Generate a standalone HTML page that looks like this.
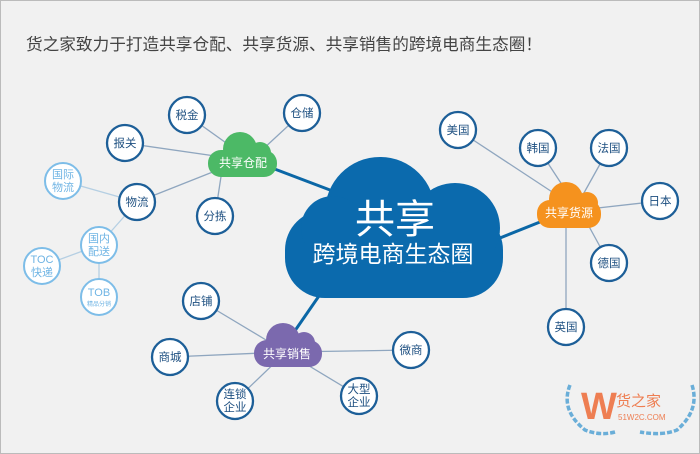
<!DOCTYPE html>
<html><head><meta charset="utf-8"><style>
html,body{margin:0;padding:0;background:#f1f1f1}
svg{display:block}
text{font-family:"Liberation Sans","Noto Sans CJK SC",sans-serif}
</style></head><body>
<svg width="700" height="454" viewBox="0 0 700 454" xmlns="http://www.w3.org/2000/svg">
<rect x="0.5" y="0.5" width="699" height="453" fill="#f1f1f1" stroke="#bbb"/>
<text x="26" y="50" font-size="16.5" fill="#444" textLength="516" lengthAdjust="spacingAndGlyphs">货之家致力于打造共享仓配、共享货源、共享销售的跨境电商生态圈！</text>
<g stroke="#8fa6bf" stroke-width="1.3">
<line x1="243" y1="155" x2="187" y2="115"/><line x1="262" y1="150" x2="302" y2="113"/>
<line x1="243" y1="160" x2="125" y2="143"/><line x1="243" y1="160" x2="137" y2="202"/>
<line x1="222" y1="170" x2="215" y2="216"/>
<line x1="572" y1="205" x2="458" y2="130"/><line x1="572" y1="200" x2="538" y2="148"/>
<line x1="580" y1="200" x2="609" y2="148"/><line x1="580" y1="210" x2="660" y2="201"/>
<line x1="580" y1="210" x2="609" y2="263"/><line x1="566" y1="215" x2="566" y2="327"/>
<line x1="286" y1="352" x2="201" y2="301"/><line x1="286" y1="352" x2="170" y2="357"/>
<line x1="286" y1="352" x2="235" y2="401"/><line x1="286" y1="352" x2="359" y2="396"/>
<line x1="286" y1="352" x2="411" y2="350"/>
</g>
<g stroke="#b5cfe3" stroke-width="1.3">
<line x1="137" y1="202" x2="63" y2="181"/><line x1="137" y1="202" x2="99" y2="245"/>
<line x1="99" y1="245" x2="42" y2="266"/><line x1="99" y1="245" x2="99" y2="297"/>
</g>
<g stroke="#0b67a6" stroke-width="3">
<line x1="272" y1="168" x2="330" y2="190"/><line x1="470" y1="250" x2="545" y2="220"/>
<line x1="330" y1="280" x2="292" y2="335"/>
</g>
<g fill="#0b6aad">
<rect x="285" y="210" width="218" height="88" rx="40"/>
<circle cx="380" cy="212" r="55"/><circle cx="333" cy="228" r="32"/><circle cx="455" cy="228" r="45"/>
</g>
<text x="395" y="233" font-size="40" fill="#fff" text-anchor="middle">共享</text>
<text x="393" y="262" font-size="23" fill="#fff" text-anchor="middle">跨境电商生态圈</text>
<g fill="#4cb966"><rect x="208" y="150" width="69" height="27" rx="13"/><circle cx="240" cy="149" r="17"/><circle cx="260" cy="153" r="11"/></g>
<text x="243" y="167" font-size="12" fill="#fff" text-anchor="middle">共享仓配</text>
<g fill="#f5921e"><rect x="537" y="200" width="64" height="28" rx="13"/><circle cx="566" cy="199" r="17"/><circle cx="587" cy="203" r="11"/></g>
<text x="569" y="217" font-size="12" fill="#fff" text-anchor="middle">共享货源</text>
<g fill="#7b69ae"><rect x="254" y="340" width="68" height="27" rx="13"/><circle cx="283" cy="340" r="17"/><circle cx="304" cy="343" r="11"/></g>
<text x="287" y="358" font-size="12" fill="#fff" text-anchor="middle">共享销售</text>
<g fill="#fff" stroke="#1d5f98" stroke-width="2.3">
<circle cx="187" cy="115" r="18"/><circle cx="302" cy="113" r="18"/><circle cx="125" cy="143" r="18"/>
<circle cx="137" cy="202" r="18"/><circle cx="215" cy="216" r="18"/>
<circle cx="201" cy="301" r="18"/><circle cx="170" cy="357" r="18"/><circle cx="235" cy="401" r="18"/>
<circle cx="359" cy="396" r="18"/><circle cx="411" cy="350" r="18"/>
<circle cx="458" cy="130" r="18"/><circle cx="538" cy="148" r="18"/><circle cx="609" cy="148" r="18"/>
<circle cx="660" cy="201" r="18"/><circle cx="609" cy="263" r="18"/><circle cx="566" cy="327" r="18"/>
</g>
<g fill="#fff" stroke="#7dbde8" stroke-width="2">
<circle cx="63" cy="181" r="18"/><circle cx="99" cy="245" r="18"/><circle cx="42" cy="266" r="18"/><circle cx="99" cy="297" r="18"/>
</g>
<g font-size="11.5" fill="#1d4f80" text-anchor="middle">
<text x="187" y="119">税金</text><text x="302" y="117">仓储</text><text x="125" y="147">报关</text>
<text x="137" y="206">物流</text><text x="215" y="220">分拣</text><text x="201" y="305">店铺</text>
<text x="170" y="361">商城</text><text x="235" y="398">连锁</text><text x="235" y="411">企业</text>
<text x="359" y="393">大型</text><text x="359" y="406">企业</text><text x="411" y="354">微商</text>
<text x="458" y="134">美国</text><text x="538" y="152">韩国</text><text x="609" y="152">法国</text>
<text x="660" y="205">日本</text><text x="609" y="267">德国</text><text x="566" y="331">英国</text>
</g>
<g font-size="11" fill="#6fb4e4" text-anchor="middle">
<text x="63" y="178">国际</text><text x="63" y="191">物流</text>
<text x="99" y="242">国内</text><text x="99" y="255">配送</text>
<text x="42" y="263">TOC</text><text x="42" y="276">快递</text>
<text x="99" y="296">TOB</text><text x="99" y="306" font-size="6">精品分销</text>
</g>
<g fill="none" stroke="#6aaed8" stroke-width="3.5" stroke-dasharray="5 2">
<path d="M570 385 Q560 410 585 430 Q600 436 615 432"/>
<path d="M692 385 Q700 410 677 430 Q662 436 640 432"/>
</g>
<text x="581" y="419" font-size="38" fill="#ee7e52" font-weight="bold">W</text>
<text x="616" y="406" font-size="15" fill="#ee7e52">货之家</text>
<text x="618" y="420" font-size="8" fill="#ee7e52">51W2C.COM</text>
</svg>
</body></html>
